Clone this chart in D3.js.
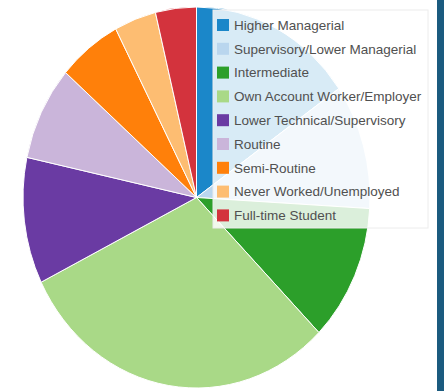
<!DOCTYPE html>
<html>
<head>
<meta charset="utf-8">
<script src="https://cdn.jsdelivr.net/npm/d3@7"></script>
<style>
  html, body { margin: 0; padding: 0; background: #ffffff; }
  svg { display: block; }
  text { font-family: "Liberation Sans", Arial, sans-serif; }
</style>
</head>
<body>
<div id="chart"></div>
<script>
// Occupational class breakdown (percent of respondents)
const categories = [
  "Higher Managerial",
  "Supervisory/Lower Managerial",
  "Intermediate",
  "Own Account Worker/Employer",
  "Lower Technical/Supervisory",
  "Routine",
  "Semi-Routine",
  "Never Worked/Unemployed",
  "Full-time Student"
];
const values = [15.3, 10.6, 11.6, 30.1, 10.7, 8.0, 5.9, 3.9, 3.8];
const colors = [
  "#1b87c9", "#b9d6ee", "#2c9f2a", "#a9d987", "#6a3ba3",
  "#cab5da", "#ff800a", "#fdbd72", "#d3333d"
];

const W = 444, H = 391;
const cx = 196.5, cy = 197.5, rx = 173.5, ry = 190.5;

const svg = d3.select("#chart").append("svg")
  .attr("width", W).attr("height", H);

svg.append("rect").attr("width", W).attr("height", H).attr("fill", "#ffffff");

const color = d3.scaleOrdinal().domain(categories).range(colors);

const pie = d3.pie().sort(null).value(d => d.value);
const arc = d3.arc().innerRadius(0).outerRadius(rx);

const data = categories.map((c, i) => ({ name: c, value: values[i] }));

// pie is drawn slightly taller than wide
const g = svg.append("g")
  .attr("transform", `translate(${cx},${cy}) scale(1,${ry / rx})`);

g.selectAll("path")
  .data(pie(data))
  .join("path")
  .attr("d", arc)
  .attr("fill", d => color(d.data.name))
  .attr("stroke", "#ffffff")
  .attr("stroke-width", 1)
  .attr("vector-effect", "non-scaling-stroke");

// legend panel laid over the pie
const lg = { x: 213, y: 10, w: 215, h: 218, row: 23.8, first: 25 };
const legend = svg.append("g");
legend.append("rect")
  .attr("x", lg.x).attr("y", lg.y)
  .attr("width", lg.w).attr("height", lg.h)
  .attr("fill", "#ffffff").attr("fill-opacity", 0.83)
  .attr("stroke", "#ececec").attr("stroke-width", 1);

const items = legend.selectAll("g.item")
  .data(categories)
  .join("g")
  .attr("class", "item")
  .attr("transform", (d, i) => `translate(${lg.x}, ${lg.first + i * lg.row})`);

items.append("rect")
  .attr("x", 4).attr("y", -6)
  .attr("width", 12).attr("height", 12)
  .attr("fill", d => color(d));

items.append("text")
  .attr("x", 21).attr("y", 0)
  .attr("dy", "0.36em")
  .attr("font-size", 13.5)
  .attr("fill", "#505050")
  .text(d => d);

// dark frame edge on the right
svg.append("rect")
  .attr("x", 437).attr("y", 0)
  .attr("width", W - 437).attr("height", H)
  .attr("fill", "#1b5b7f");
</script>
</body>
</html>
